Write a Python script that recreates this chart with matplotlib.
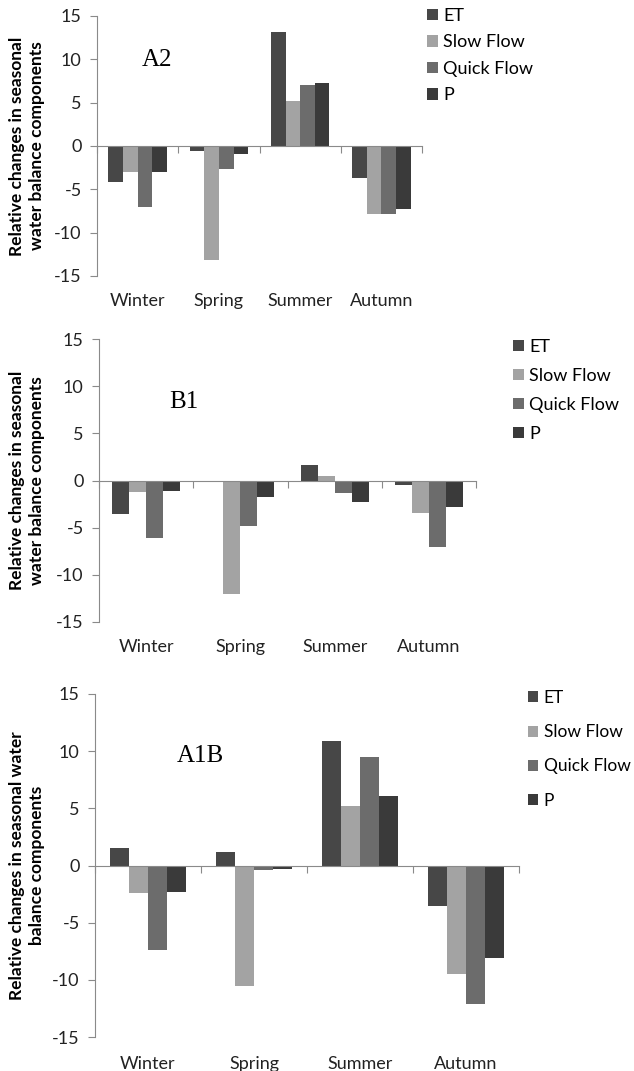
import numpy as np
import matplotlib
matplotlib.use("Agg")
import matplotlib.pyplot as plt
from matplotlib.patches import Patch

seasons = ["Winter", "Spring", "Summer", "Autumn"]
components = ["ET", "Slow Flow", "Quick Flow", "P"]
colors = ["#474747", "#a3a3a3", "#6c6c6c", "#3a3a3a"]

# relative changes per season, one list per component (ET, slow, quick, P)
a2_et = [-4.2, -0.6, 13.2, -3.7]
a2_slow = [-3.0, -13.2, 5.2, -7.8]
a2_quick = [-7.0, -2.7, 7.0, -7.8]
a2_p = [-3.0, -0.9, 7.3, -7.3]

b1_et = [-3.5, 0.0, 1.6, -0.5]
b1_slow = [-1.2, -12.0, 0.5, -3.4]
b1_quick = [-6.1, -4.8, -1.3, -7.1]
b1_p = [-1.1, -1.8, -2.3, -2.8]

a1b_et = [1.5, 1.2, 10.9, -3.5]
a1b_slow = [-2.4, -10.5, 5.2, -9.5]
a1b_quick = [-7.4, -0.4, 9.5, -12.1]
a1b_p = [-2.3, -0.3, 6.1, -8.1]

yticks = [-15, -10, -5, 0, 5, 10, 15]

W, H = 634, 1071
plt.rcParams["font.family"] = ["Lato", "DejaVu Sans"]
fig = plt.figure(figsize=(W / 100, H / 100), dpi=100)
axis_col = "#8a8a8a"

def px_axes(left, right, top, bottom):
    return fig.add_axes([left / W, 1 - bottom / H, (right - left) / W, (bottom - top) / H])

def panel(box, series, tag, tag_xy, ylabel, ylabel_x, leg_xy, leg_space, xlab_pad,
          leg_size=13):
    ax = px_axes(*box)
    x = np.arange(len(seasons)) + 0.5
    w = 0.18
    for i, vals in enumerate(series):
        ax.bar(x + (i - 1.5) * w, vals, w, color=colors[i], linewidth=0)
    ax.set_xlim(0, 4)
    ax.set_ylim(-15, 15)
    ax.set_yticks(yticks)
    ax.set_yticklabels([str(t) for t in yticks], fontsize=13, color="#222222")
    for s in ["top", "right"]:
        ax.spines[s].set_visible(False)
    ax.spines["left"].set_color(axis_col)
    ax.spines["bottom"].set_position(("data", 0))
    ax.spines["bottom"].set_color(axis_col)
    ax.set_xticks(range(5))
    ax.set_xticklabels([])
    ax.tick_params(axis="x", direction="out", length=5, color=axis_col)
    ax.tick_params(axis="y", direction="out", length=5, color=axis_col, pad=6)

    sec = ax.secondary_xaxis(0)
    sec.set_xticks(x)
    sec.set_xticklabels(seasons, fontsize=13, color="#222222")
    sec.tick_params(length=0, pad=xlab_pad)
    sec.spines["bottom"].set_visible(False)

    fig.text(tag_xy[0] / W, 1 - tag_xy[1] / H, tag, fontsize=18,
             family="Liberation Serif", ha="center", va="center")
    fig.text(ylabel_x / W, 1 - (box[2] + box[3]) / 2 / H, ylabel, rotation=90,
             fontsize=12.5, fontweight="bold", ha="center", va="center",
             linespacing=1.3)

    handles = [Patch(facecolor=c, edgecolor="none") for c in colors]
    fig.legend(handles, components, loc="upper left",
               bbox_to_anchor=(leg_xy[0] / W, 1 - leg_xy[1] / H),
               frameon=False, fontsize=leg_size, handlelength=0.6,
               handleheight=0.6, handletextpad=0.3,
               labelspacing=leg_space, borderpad=0, borderaxespad=0)
    return ax

panel((97, 422, 16, 276), [a2_et, a2_slow, a2_quick, a2_p], "A2", (157, 60),
      "Relative changes in seasonal\nwater balance components", 27,
      (427, 8), 0.58, 12)
panel((99, 476, 339, 622), [b1_et, b1_slow, b1_quick, b1_p], "B1", (184, 402),
      "Relative changes in seasonal\nwater balance components", 27,
      (513, 339), 0.72, 12)
panel((95, 519, 694, 1037), [a1b_et, a1b_slow, a1b_quick, a1b_p], "A1B", (200, 756),
      "Relative changes in seasonal water\nbalance components", 27,
      (528, 690), 1.05, 14, leg_size=12.5)

fig.savefig("out.png", dpi=100)
